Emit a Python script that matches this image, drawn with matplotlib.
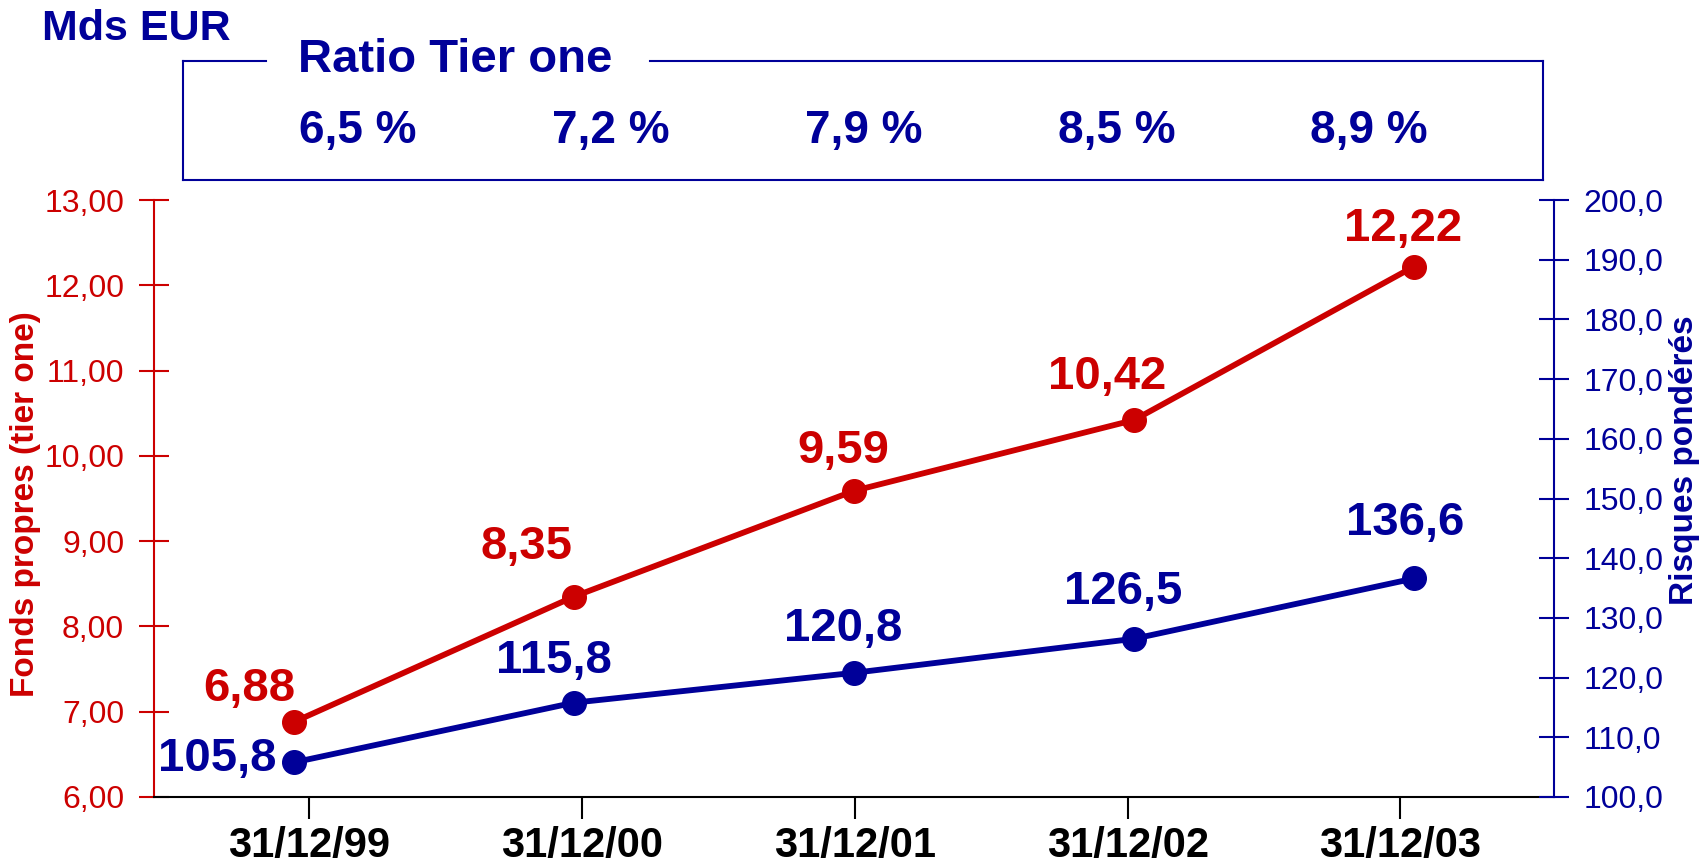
import matplotlib.pyplot as plt
from matplotlib.lines import Line2D
import numpy as np

plt.rcParams['font.family'] = ['Liberation Sans', 'DejaVu Sans']

# données
dates = ['31/12/99', '31/12/00', '31/12/01', '31/12/02', '31/12/03']
fonds_propres = [6.88, 8.35, 9.59, 10.42, 12.22]
risques_ponderes = [105.8, 115.8, 120.8, 126.5, 136.6]
ratio_tier_one = ['6,5 %', '7,2 %', '7,9 %', '8,5 %', '8,9 %']

RED = '#CC0000'
BLUE = '#000099'
W, H = 1700, 866


def fx(px):
    return px / W


def fy(py):
    return 1 - py / H


fig = plt.figure(figsize=(17, 8.66), dpi=100)
ax = fig.add_axes([fx(154), fy(797), fx(1554 - 154), (797 - 200) / H])
ax2 = ax.twinx()

x = np.arange(len(dates))

# courbes
ax.plot(x, fonds_propres, color=RED, lw=4.2, marker='o', ms=17, zorder=3)
ax2.plot(x, risques_ponderes, color=BLUE, lw=4.2, marker='o', ms=17, zorder=3)

# étiquettes de données (décalage en pixels)
red_off = [(-45, 33), (-47, 50), (-11, 40), (-27, 43), (-11, 38)]
blue_off = [(-77, 3), (-20, 42), (-11, 44), (-11, 47), (-9, 55)]
for i, v in enumerate(fonds_propres):
    ax.annotate(f'{v:.2f}'.replace('.', ','), (x[i], v), xytext=red_off[i],
                textcoords='offset pixels', ha='center', va='center',
                fontsize=34, fontweight='bold', color=RED)
for i, v in enumerate(risques_ponderes):
    ax2.annotate(f'{v:.1f}'.replace('.', ','), (x[i], v), xytext=blue_off[i],
                 textcoords='offset pixels', ha='center', va='center',
                 fontsize=34, fontweight='bold', color=BLUE)

# axes
ax.set_xlim(-0.5, 4.5)
ax.set_ylim(6, 13)
ax2.set_ylim(100, 200)
ax.set_yticks(np.arange(6, 14))
ax.set_yticklabels([f'{v:.2f}'.replace('.', ',') for v in np.arange(6, 14)])
ax2.set_yticks(np.arange(100, 201, 10))
ax2.set_yticklabels([f'{v:.1f}'.replace('.', ',') for v in np.arange(100, 201, 10)])

tick_pos = np.arange(len(dates)) * 0.974 + 0.055
ax.set_xticks(tick_pos)
ax.set_xticklabels(dates, fontsize=30, fontweight='bold')

for a in (ax, ax2):
    a.spines['top'].set_visible(False)
ax.spines['right'].set_visible(False)
ax2.spines['left'].set_visible(False)
ax2.spines['bottom'].set_visible(False)
ax.spines['left'].set_color(RED)
ax.spines['left'].set_linewidth(1.5)
ax2.spines['right'].set_color(BLUE)
ax2.spines['right'].set_linewidth(1.5)
ax.spines['bottom'].set_color('black')
ax.spines['bottom'].set_linewidth(1.5)

ax.tick_params(axis='y', direction='inout', length=21, width=1.5, color=RED,
               labelcolor=RED, labelsize=23, pad=11)
ax2.tick_params(axis='y', direction='inout', length=21, width=1.5, color=BLUE,
                labelcolor=BLUE, labelsize=23, pad=11)
ax.tick_params(axis='x', direction='out', length=16, width=1.5, color='black', pad=5)

# titres des axes
fig.text(fx(26), fy(504), 'Fonds propres (tier one)', rotation=90, ha='center', va='center',
         fontsize=24, fontweight='bold', color=RED)
fig.text(fx(1684), fy(460), 'Risques pondérés', rotation=90, ha='center', va='center',
         fontsize=24, fontweight='bold', color=BLUE)

fig.text(fx(42), fy(29), 'Mds EUR', ha='left', va='center', fontsize=31,
         fontweight='bold', color=BLUE)

# cadre ratio tier one
box = [((183, 266), (61, 61)), ((650, 1543), (61, 61)), ((1543, 1543), (61, 180)),
       ((183, 1543), (180, 180)), ((183, 183), (61, 180))]
for xs, ys in box:
    fig.add_artist(Line2D([fx(xs[0]), fx(xs[1])], [fy(ys[0]), fy(ys[1])],
                          transform=fig.transFigure, color=BLUE, lw=1.5))
fig.text(fx(298), fy(60), 'Ratio Tier one', ha='left', va='center', fontsize=34,
         fontweight='bold', color=BLUE)
for i, r in enumerate(ratio_tier_one):
    fig.text(fx(358 + 252.8 * i), fy(131), r, ha='center', va='center', fontsize=33,
             fontweight='bold', color=BLUE)

fig.savefig('out.png', dpi=100)
